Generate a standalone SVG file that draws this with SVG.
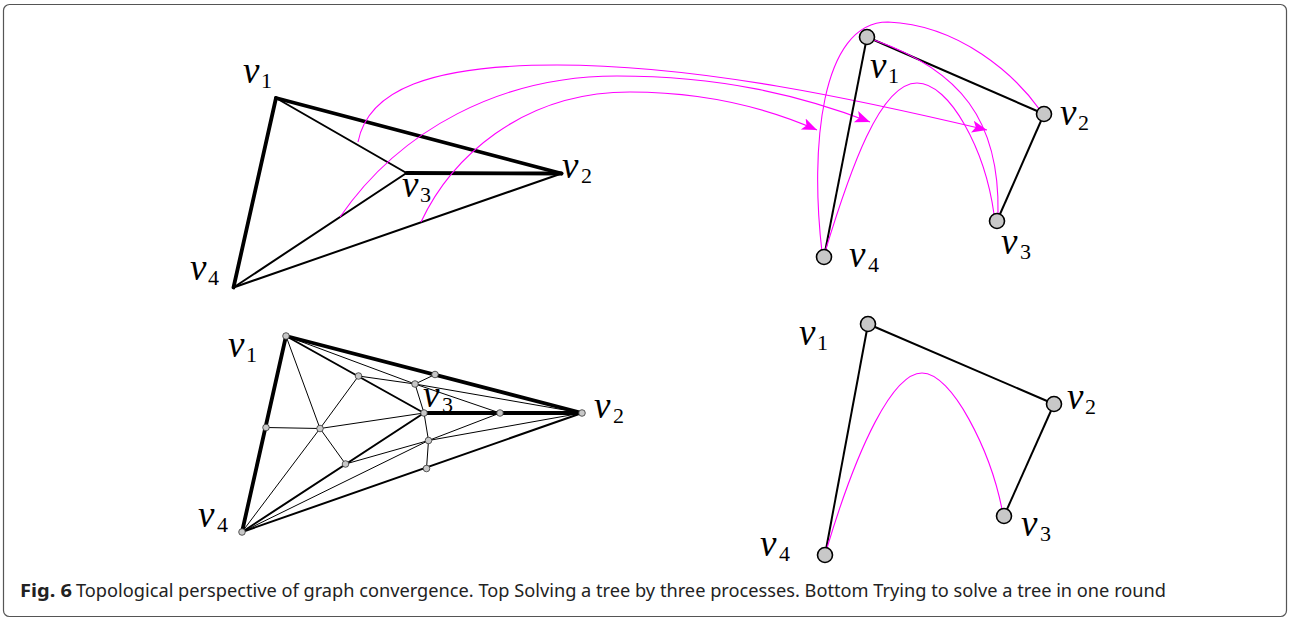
<svg xmlns="http://www.w3.org/2000/svg" width="1289" height="618" viewBox="0 0 1289 618">
<style>
.frame{fill:#fff;stroke:#555;stroke-width:1.2}
.thick{stroke:#000;stroke-width:3.8;stroke-linecap:round;fill:none}
.med{stroke:#000;stroke-width:2;stroke-linecap:round;fill:none}
.thin{stroke:#000;stroke-width:1;fill:none}
.edge{stroke:#000;stroke-width:2;fill:none}
.mag{stroke:#ff00ff;stroke-width:1.1;fill:none}
.node{fill:#c8c8c8;stroke:#000;stroke-width:1.6}
.dot{fill:#c8c8c8;stroke:#333;stroke-width:0.8}
.cap{font-family:'Noto Sans','Open Sans',sans-serif;font-size:17.5px;fill:#222}
</style>
<defs>
<marker id="ah" markerUnits="userSpaceOnUse" markerWidth="18" markerHeight="14" refX="15" refY="6" orient="auto" viewBox="0 0 18 14">
<path d="M0,0 L15,6 L0,12 L3.5,6 z" fill="#ff00ff"/>
</marker>
</defs>
<rect class="frame" x="3.5" y="4.5" width="1283" height="612" rx="6"/>

<g id="connectors">
<line class="thick" x1="276" y1="98" x2="561.5" y2="173.5"/>
<line class="thick" x1="276" y1="98" x2="233.5" y2="287.5"/>
<line class="thick" x1="406.5" y1="173" x2="561.5" y2="173.5"/>
<line class="med" x1="276" y1="98" x2="406.5" y2="173"/>
<line class="med" x1="406.5" y1="173" x2="233.5" y2="287.5"/>
<line class="med" x1="233.5" y1="287.5" x2="561.5" y2="173.5"/>
<path class="mag" marker-end="url(#ah)" d="M358,142 C368,90 430,65 557,65 C700,65 860,100 987,130"/>
<path class="mag" marker-end="url(#ah)" d="M340,217 C400,130 500,76 617,76 C720,76 800,95 870,122"/>
<path class="mag" marker-end="url(#ah)" d="M421,222 C450,160 520,92 630,92 C700,92 760,105 817,130"/>
<line class="edge" x1="867" y1="37" x2="1044" y2="114"/>
<line class="edge" x1="1044" y1="114" x2="997" y2="221"/>
<line class="edge" x1="867" y1="37" x2="824" y2="257"/>
<path class="mag" d="M822,252 C810,150 820,22 888,22 C960,25 1015,75 1040,110"/>
<path class="mag" d="M874,40 C960,70 1000,120 998,214"/>
<path class="mag" d="M825,252 C850,170 880,83 917,83 C950,83 985,150 994,214"/>
<line class="thin" x1="286" y1="336" x2="320" y2="428.5"/>
<line class="thin" x1="286" y1="336" x2="415" y2="384"/>
<line class="thin" x1="358.5" y1="376" x2="415" y2="384"/>
<line class="thin" x1="415" y1="384" x2="435" y2="374.5"/>
<line class="thin" x1="415" y1="384" x2="424" y2="413"/>
<line class="thin" x1="415" y1="384" x2="582" y2="413"/>
<line class="thin" x1="415" y1="384" x2="500" y2="413"/>
<line class="thin" x1="266" y1="427.5" x2="320" y2="428.5"/>
<line class="thin" x1="320" y1="428.5" x2="358.5" y2="376"/>
<line class="thin" x1="320" y1="428.5" x2="424" y2="413"/>
<line class="thin" x1="320" y1="428.5" x2="345.5" y2="464"/>
<line class="thin" x1="320" y1="428.5" x2="242" y2="532"/>
<line class="thin" x1="424" y1="413" x2="428.5" y2="440.5"/>
<line class="thin" x1="428.5" y1="440.5" x2="426.5" y2="468.5"/>
<line class="thin" x1="428.5" y1="440.5" x2="345.5" y2="464"/>
<line class="thin" x1="428.5" y1="440.5" x2="242" y2="532"/>
<line class="thin" x1="428.5" y1="440.5" x2="500" y2="413"/>
<line class="thin" x1="428.5" y1="440.5" x2="582" y2="413"/>
<line class="thick" x1="286" y1="336" x2="582" y2="413"/>
<line class="thick" x1="286" y1="336" x2="242" y2="532"/>
<line class="thick" x1="424" y1="413" x2="582" y2="413"/>
<line class="med" x1="286" y1="336" x2="424" y2="413"/>
<line class="med" x1="424" y1="413" x2="242" y2="532"/>
<line class="med" x1="242" y1="532" x2="582" y2="413"/>
<line class="edge" x1="868" y1="324" x2="1054" y2="404"/>
<line class="edge" x1="1054" y1="404" x2="1004" y2="516"/>
<line class="edge" x1="868" y1="324" x2="825" y2="555"/>
<path class="mag" d="M827,548 C858,445 893,373 922,373 C952,373 990,450 1002,509"/>
</g>

<g font-family="Liberation Serif, serif" font-style="italic" font-size="37" fill="#000">
<g id="tl-v1"><text x="243" y="83">v<tspan font-style="normal" font-size="22" x="261" y="88">1</tspan></text></g>
<g id="tl-v2"><text x="562" y="178">v<tspan font-style="normal" font-size="22" x="581" y="183">2</tspan></text></g>
<g id="tl-v3"><text x="402" y="197">v<tspan font-style="normal" font-size="22" x="420" y="202">3</tspan></text></g>
<g id="tl-v4"><text x="190" y="280">v<tspan font-style="normal" font-size="22" x="208" y="285">4</tspan></text></g>

<g id="tr-v1"><circle class="node" cx="867" cy="37" r="7.5"/><text x="870" y="78">v<tspan font-style="normal" font-size="22" x="888" y="83">1</tspan></text></g>
<g id="tr-v2"><circle class="node" cx="1044" cy="114" r="7.5"/><text x="1060" y="125">v<tspan font-style="normal" font-size="22" x="1078" y="130">2</tspan></text></g>
<g id="tr-v3"><circle class="node" cx="997" cy="221" r="7.5"/><text x="1001" y="254">v<tspan font-style="normal" font-size="22" x="1020" y="259">3</tspan></text></g>
<g id="tr-v4"><circle class="node" cx="824" cy="257" r="7.5"/><text x="849" y="267">v<tspan font-style="normal" font-size="22" x="868" y="272">4</tspan></text></g>

<g id="bl-v1"><circle class="dot" cx="286" cy="336" r="3.3"/><text x="228" y="357">v<tspan font-style="normal" font-size="22" x="246" y="362">1</tspan></text></g>
<g id="bl-v2"><circle class="dot" cx="582" cy="413" r="3.3"/><text x="594" y="418">v<tspan font-style="normal" font-size="22" x="613" y="423">2</tspan></text></g>
<g id="bl-v3"><circle class="dot" cx="424" cy="413" r="3.3"/><text x="423" y="407">v<tspan font-style="normal" font-size="22" x="442" y="412">3</tspan></text></g>
<g id="bl-v4"><circle class="dot" cx="242" cy="532" r="3.3"/><text x="198" y="527">v<tspan font-style="normal" font-size="22" x="217" y="532">4</tspan></text></g>
<g id="bl-a"><circle class="dot" cx="358.5" cy="376" r="3.3"/></g>
<g id="bl-b"><circle class="dot" cx="435" cy="374.5" r="3.3"/></g>
<g id="bl-c"><circle class="dot" cx="415" cy="384" r="3.3"/></g>
<g id="bl-d"><circle class="dot" cx="500" cy="413" r="3.3"/></g>
<g id="bl-e"><circle class="dot" cx="266" cy="427.5" r="3.3"/></g>
<g id="bl-f"><circle class="dot" cx="320" cy="428.5" r="3.3"/></g>
<g id="bl-g"><circle class="dot" cx="428.5" cy="440.5" r="3.3"/></g>
<g id="bl-h"><circle class="dot" cx="345.5" cy="464" r="3.3"/></g>
<g id="bl-i"><circle class="dot" cx="426.5" cy="468.5" r="3.3"/></g>

<g id="br-v1"><circle class="node" cx="868" cy="324" r="7.5"/><text x="799" y="345">v<tspan font-style="normal" font-size="22" x="817" y="350">1</tspan></text></g>
<g id="br-v2"><circle class="node" cx="1054" cy="404" r="7.5"/><text x="1067" y="409">v<tspan font-style="normal" font-size="22" x="1085" y="414">2</tspan></text></g>
<g id="br-v3"><circle class="node" cx="1004" cy="516" r="7.5"/><text x="1021" y="536">v<tspan font-style="normal" font-size="22" x="1040" y="541">3</tspan></text></g>
<g id="br-v4"><circle class="node" cx="825" cy="555" r="7.5"/><text x="760" y="556">v<tspan font-style="normal" font-size="22" x="779" y="561">4</tspan></text></g>
</g>

<g id="caption">
<text class="cap" x="20" y="597" font-weight="bold" textLength="52" lengthAdjust="spacingAndGlyphs">Fig. 6</text>
<text class="cap" x="76" y="597" textLength="1090" lengthAdjust="spacingAndGlyphs">Topological perspective of graph convergence. Top Solving a tree by three processes. Bottom Trying to solve a tree in one round</text>
</g>
</svg>
